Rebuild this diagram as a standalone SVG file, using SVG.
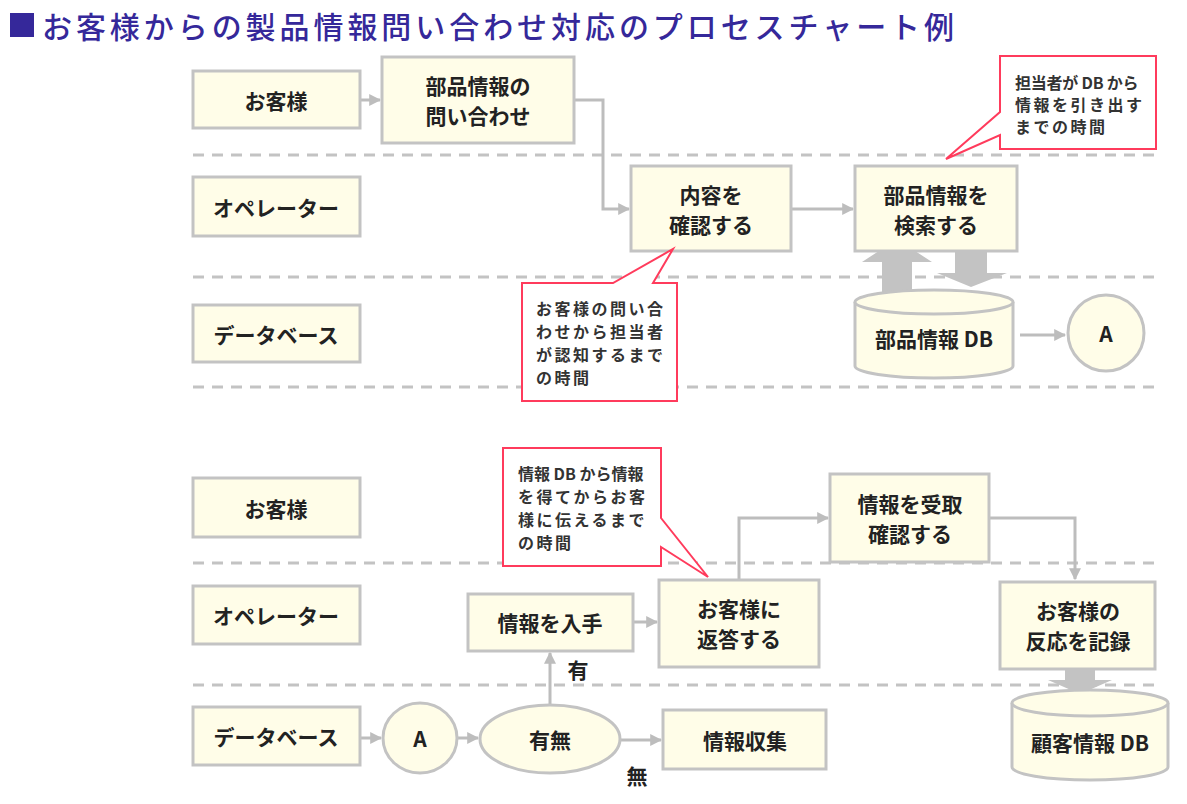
<svg xmlns="http://www.w3.org/2000/svg" width="1187" height="804" viewBox="0 0 1187 804">
<defs>
<style>
.box{fill:#fffde8;stroke:#c3c3c3;stroke-width:3}
.t{font-family:"Noto Sans CJK JP","Noto Sans",sans-serif;font-weight:bold;font-size:21px;fill:#222;text-anchor:middle;dominant-baseline:central}
.c{font-family:"Noto Sans CJK JP","Noto Sans",sans-serif;font-weight:bold;font-size:16px;fill:#333;letter-spacing:2.5px;dominant-baseline:central}
.call{fill:#fff;stroke:#ff3b5c;stroke-width:2}
.dash{stroke:#c3c3c3;stroke-width:3;stroke-dasharray:11 8;fill:none}
.ln{stroke:#bdbdbd;stroke-width:3;fill:none;marker-end:url(#ah)}
.fat{fill:#c3c3c3}
</style>
<marker id="ah" viewBox="0 0 10 10" refX="9" refY="5" markerWidth="4" markerHeight="4" orient="auto" markerUnits="strokeWidth">
<path d="M0,0 L10,5 L0,10 Z" fill="#bdbdbd"/>
</marker>
</defs>
<rect width="1187" height="804" fill="#fff"/>
<g id="title">
<rect x="10" y="13" width="24" height="24" fill="#35289a"/>
<text x="42" y="25" font-family="Noto Sans CJK JP,sans-serif" font-size="30" font-weight="500" fill="#35289a" dominant-baseline="central" textLength="912" lengthAdjust="spacing">お客様からの製品情報問い合わせ対応のプロセスチャート例</text>
</g>
<g id="lanes">
<line class="dash" x1="193" y1="155" x2="1160" y2="155"/>
<line class="dash" x1="193" y1="277" x2="1160" y2="277"/>
<line class="dash" x1="193" y1="387" x2="1160" y2="387"/>
<line class="dash" x1="193" y1="563" x2="1160" y2="563"/>
<line class="dash" x1="193" y1="685" x2="1160" y2="685"/>
</g>
<g id="connectors">
<line class="ln" x1="361" y1="100" x2="380" y2="100"/>
<polyline class="ln" points="575,100 603,100 603,209 629,209"/>
<line class="ln" x1="792" y1="209" x2="853" y2="209"/>
<line class="ln" x1="1020" y1="335" x2="1065" y2="335"/>
<line class="ln" x1="361" y1="738" x2="381" y2="738"/>
<line class="ln" x1="458" y1="738" x2="478" y2="738"/>
<line class="ln" x1="550" y1="705" x2="550" y2="653"/>
<line class="ln" x1="620" y1="740" x2="661" y2="740"/>
<line class="ln" x1="634" y1="622" x2="657" y2="622"/>
<polyline class="ln" points="739,580 739,518 828,518"/>
<polyline class="ln" points="990,518 1075,518 1075,579"/>
<polygon class="fat" points="882,292 912,292 912,262 932,262 912,249 882,249 862,262 882,262"/>
<polygon class="fat" points="955,251 987,251 987,273 1007,273 971,287 937,273 955,273"/>
<polygon class="fat" points="1065,660 1095,660 1095,680 1112,680 1080,694 1048,680 1065,680"/>
</g>
<g id="lane-customer-1"><rect class="box" x="193" y="71" width="167" height="57"/><text class="t" x="276" y="100">お客様</text></g>
<g id="lane-operator-1"><rect class="box" x="193" y="177" width="167" height="59"/><text class="t" x="276" y="207">オペレーター</text></g>
<g id="lane-db-1"><rect class="box" x="193" y="305" width="167" height="57"/><text class="t" x="276" y="334">データベース</text></g>
<g id="inquiry"><rect class="box" x="382" y="57" width="192" height="86"/><text class="t" x="478" y="85">部品情報の</text><text class="t" x="478" y="115">問い合わせ</text></g>
<g id="confirm"><rect class="box" x="631" y="166" width="160" height="85"/><text class="t" x="711" y="194">内容を</text><text class="t" x="711" y="224">確認する</text></g>
<g id="search"><rect class="box" x="855" y="166" width="162" height="85"/><text class="t" x="936" y="194">部品情報を</text><text class="t" x="936" y="224">検索する</text></g>
<g id="parts-db">
<path class="box" d="M855,302 A79,12 0 0 1 1013,302 V366 A79,12 0 0 1 855,366 Z"/>
<path class="box" d="M855,302 A79,12 0 0 0 1013,302"/>
<text class="t" x="934" y="338">部品情報 DB</text>
</g>
<g id="conn-a-1"><ellipse class="box" cx="1106" cy="333" rx="38" ry="38"/><text class="t" x="1106" y="333">A</text></g>
<g id="callout-1">
<path class="call" d="M1000,56 H1156 V149 H1000 V135 L946,159 L1000,112 Z"/>
<text class="c" x="1015" y="82" textLength="126" lengthAdjust="spacing">担当者が DB から</text>
<text class="c" x="1015" y="104">情報を引き出す</text>
<text class="c" x="1015" y="126">までの時間</text>
</g>
<g id="callout-2">
<path class="call" d="M522,283 H613 L673,249 L653,283 H677 V401 H522 Z"/>
<text class="c" x="536" y="308">お客様の問い合</text>
<text class="c" x="536" y="331">わせから担当者</text>
<text class="c" x="536" y="354">が認知するまで</text>
<text class="c" x="536" y="377">の時間</text>
</g>
<g id="lane-customer-2"><rect class="box" x="193" y="478" width="167" height="59"/><text class="t" x="276" y="508">お客様</text></g>
<g id="lane-operator-2"><rect class="box" x="193" y="586" width="167" height="58"/><text class="t" x="276" y="615">オペレーター</text></g>
<g id="lane-db-2"><rect class="box" x="193" y="707" width="167" height="58"/><text class="t" x="276" y="736">データベース</text></g>
<g id="callout-3">
<path class="call" d="M503,448 H661 V518 L708,577 L661,547 V566 H503 Z"/>
<text class="c" x="518" y="473" textLength="128" lengthAdjust="spacing">情報 DB から情報</text>
<text class="c" x="518" y="496">を得てからお客</text>
<text class="c" x="518" y="519">様に伝えるまで</text>
<text class="c" x="518" y="542">の時間</text>
</g>
<g id="get-info"><rect class="box" x="468" y="594" width="165" height="57"/><text class="t" x="550" y="622">情報を入手</text></g>
<g id="reply"><rect class="box" x="659" y="580" width="160" height="87"/><text class="t" x="739" y="608">お客様に</text><text class="t" x="739" y="638">返答する</text></g>
<g id="receive"><rect class="box" x="830" y="474" width="159" height="88"/><text class="t" x="910" y="503">情報を受取</text><text class="t" x="910" y="533">確認する</text></g>
<g id="record"><rect class="box" x="1000" y="582" width="155" height="87"/><text class="t" x="1078" y="610">お客様の</text><text class="t" x="1078" y="640">反応を記録</text></g>
<g id="customer-db">
<path class="box" d="M1012,703 A78,13 0 0 1 1168,703 V767 A78,13 0 0 1 1012,767 Z"/>
<path class="box" d="M1012,703 A78,13 0 0 0 1168,703"/>
<text class="t" x="1090" y="742">顧客情報 DB</text>
</g>
<g id="conn-a-2"><ellipse class="box" cx="420" cy="738" rx="37" ry="35"/><text class="t" x="420" y="738">A</text></g>
<g id="exists"><ellipse class="box" cx="550" cy="739" rx="70" ry="34"/><text class="t" x="550" y="739">有無</text></g>
<g id="collect"><rect class="box" x="663" y="710" width="163" height="59"/><text class="t" x="745" y="740">情報収集</text></g>
<g id="labels">
<text class="t" x="578" y="669" font-size="20">有</text>
<text class="t" x="637" y="775" font-size="20">無</text>
</g>
</svg>
